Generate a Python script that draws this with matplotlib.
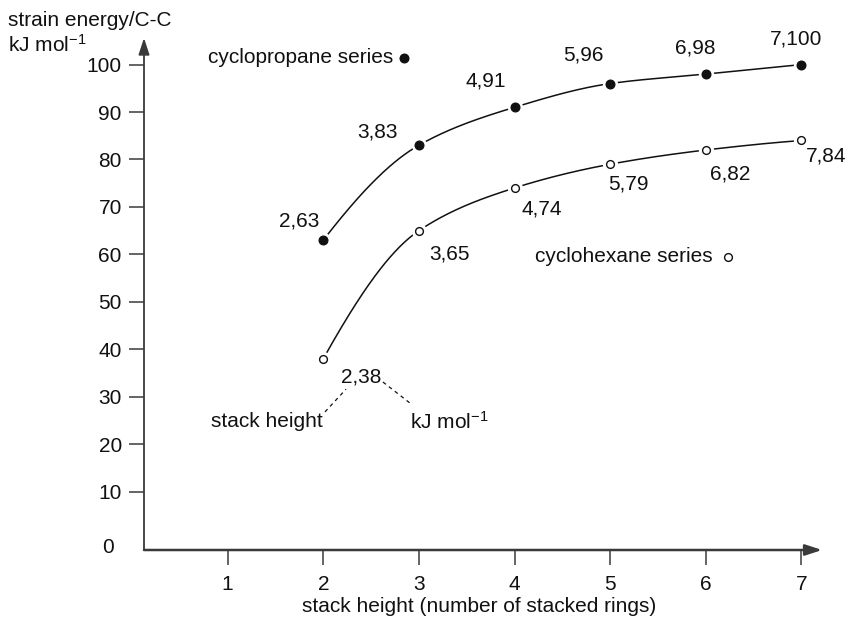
import numpy as np
import matplotlib
matplotlib.use("Agg")
import matplotlib.pyplot as plt

plt.rcParams['font.family'] = ['Liberation Sans', 'DejaVu Sans']
plt.rcParams['mathtext.fontset'] = 'custom'
plt.rcParams['mathtext.rm'] = 'Liberation Sans'
plt.rcParams['mathtext.it'] = 'Liberation Sans:italic'
plt.rcParams['mathtext.bf'] = 'Liberation Sans:bold'

# ---- data -------------------------------------------------------------
stack_height = [2, 3, 4, 5, 6, 7]
cyclopropane_strain = [63, 83, 91, 96, 98, 100]
cyclohexane_strain = [38, 65, 74, 79, 82, 84]
x_tick_values = [1, 2, 3, 4, 5, 6, 7]
y_tick_values = [10, 20, 30, 40, 50, 60, 70, 80, 90, 100]

FS = 15
INK = '#111111'
AXIS = '#3a3a3a'


def pchip(x, y, n=60):
    """Monotone cubic (Fritsch-Carlson) curve through the given points."""
    x = np.asarray(x, float)
    y = np.asarray(y, float)
    h = np.diff(x)
    d = np.diff(y) / h
    m = np.zeros_like(y)
    for k in range(1, len(x) - 1):
        if d[k - 1] * d[k] > 0:
            w1 = 2 * h[k] + h[k - 1]
            w2 = h[k] + 2 * h[k - 1]
            m[k] = (w1 + w2) / (w1 / d[k - 1] + w2 / d[k])

    def end_slope(h0, h1, d0, d1):
        s = ((2 * h0 + h1) * d0 - h0 * d1) / (h0 + h1)
        if np.sign(s) != np.sign(d0):
            s = 0.0
        elif np.sign(d0) != np.sign(d1) and abs(s) > abs(3 * d0):
            s = 3 * d0
        return s

    m[0] = end_slope(h[0], h[1], d[0], d[1])
    m[-1] = end_slope(h[-1], h[-2], d[-1], d[-2])
    xs, ys = [], []
    for k in range(len(x) - 1):
        t = np.linspace(0, 1, n)
        h00 = 2 * t**3 - 3 * t**2 + 1
        h10 = t**3 - 2 * t**2 + t
        h01 = -2 * t**3 + 3 * t**2
        h11 = t**3 - t**2
        xs.append(x[k] + t * h[k])
        ys.append(h00 * y[k] + h10 * h[k] * m[k] + h01 * y[k + 1] + h11 * h[k] * m[k + 1])
    return np.concatenate(xs), np.concatenate(ys)


W, H = 848, 622
fig = plt.figure(figsize=(W / 100, H / 100), dpi=100)
ax = fig.add_axes([144 / W, (H - 550) / H, (822 - 144) / W, (550 - 38) / H])
ax.set_xlim(0.1255, 7.215)
ax.set_ylim(-2.3, 105.6)
ax.patch.set_visible(False)
for s in ax.spines.values():
    s.set_visible(False)

# axes drawn as arrows
arrow_kw = dict(arrowstyle='-|>,head_length=1.0,head_width=0.33', mutation_scale=10,
                color=AXIS, shrinkA=0, shrinkB=0)
ax.annotate('', xy=(1, 0), xytext=(0, 0), xycoords='axes fraction',
            arrowprops=dict(lw=1.8, **arrow_kw), annotation_clip=False)
ax.annotate('', xy=(0, 1), xytext=(0, 0), xycoords='axes fraction',
            arrowprops=dict(lw=1.3, **arrow_kw), annotation_clip=False)

ax.set_xticks(x_tick_values)
ax.set_xticklabels([str(v) for v in x_tick_values])
ax.set_yticks(y_tick_values)
ax.set_yticklabels([str(v) for v in y_tick_values])
ax.tick_params(axis='x', direction='out', length=11, width=1.1, color=AXIS,
               pad=7, labelsize=FS, labelcolor=INK)
ax.tick_params(axis='y', direction='out', length=11, width=1.1, color=AXIS,
               pad=5, labelsize=FS, labelcolor=INK)
ax.text(-0.045, 0.005, '0', transform=ax.transAxes, ha='right', va='center',
        fontsize=FS, color=INK)

# curves
for ys in (cyclopropane_strain, cyclohexane_strain):
    cx, cy = pchip(stack_height, ys)
    ax.plot(cx, cy, color=INK, lw=1.1, zorder=2, solid_capstyle='butt')
    ax.plot(stack_height, ys, ls='none', marker='o', ms=11, mfc='white', mec='none', zorder=3)

ax.plot(stack_height, cyclopropane_strain, ls='none', marker='o', ms=6.2,
        mfc=INK, mec=INK, zorder=4)
ax.plot(stack_height, cyclohexane_strain, ls='none', marker='o', ms=5.6,
        mfc='white', mec=INK, mew=1.0, zorder=4)

# value labels "n,E"
top_offsets = [(-24, 19), (-41, 13), (-29, 26), (-27, 29), (-11, 26), (-5, 26)]
bottom_offsets = [(38, -18), (31, -23), (27, -21), (18, -20), (24, -24), (25, -16)]
for x, y, off in zip(stack_height, cyclopropane_strain, top_offsets):
    ax.annotate(f'{x},{y}', (x, y), xytext=off, textcoords='offset pixels',
                ha='center', va='center', fontsize=FS, color=INK)
for x, y, off in zip(stack_height, cyclohexane_strain, bottom_offsets):
    ax.annotate(f'{x},{y}', (x, y), xytext=off, textcoords='offset pixels',
                ha='center', va='center', fontsize=FS, color=INK)

# series keys
ax.plot([2.844], [101.4], ls='none', marker='o', ms=6.2, mfc=INK, mec=INK)
ax.annotate('cyclopropane series', (2.844, 101.4), xytext=(-11, 0),
            textcoords='offset pixels', ha='right', va='center', fontsize=FS, color=INK)
ax.plot([6.23], [59.45], ls='none', marker='o', ms=5.6, mfc='white', mec=INK, mew=1.0)
ax.annotate('cyclohexane series', (6.23, 59.45), xytext=(-15, 0),
            textcoords='offset pixels', ha='right', va='center', fontsize=FS, color=INK)

# key to the value labels
ax.text(1.41, 24.7, 'stack height', ha='center', va='center', fontsize=FS, color=INK)
ax.text(2.905, 24.7, 'kJ mol$^{\u22121}$', ha='left', va='center', fontsize=FS, color=INK)
ax.plot([2.018, 2.238], [26.8, 31.6], color=INK, lw=0.9, ls=(0, (3, 3)))
ax.plot([2.624, 2.917], [33.1, 28.5], color=INK, lw=0.9, ls=(0, (3, 3)))

# axis titles
fig.text(8 / W, 1 - 20 / H, 'strain energy/C-C', ha='left', va='center', fontsize=FS, color=INK)
fig.text(8 / W, 1 - 45 / H, 'kJ mol$^{\u22121}$', ha='left', va='center', fontsize=FS, color=INK)
fig.text(479 / W, 1 - 606 / H, 'stack height (number of stacked rings)',
         ha='center', va='center', fontsize=FS, color=INK)

fig.savefig('out.png', dpi=100)
